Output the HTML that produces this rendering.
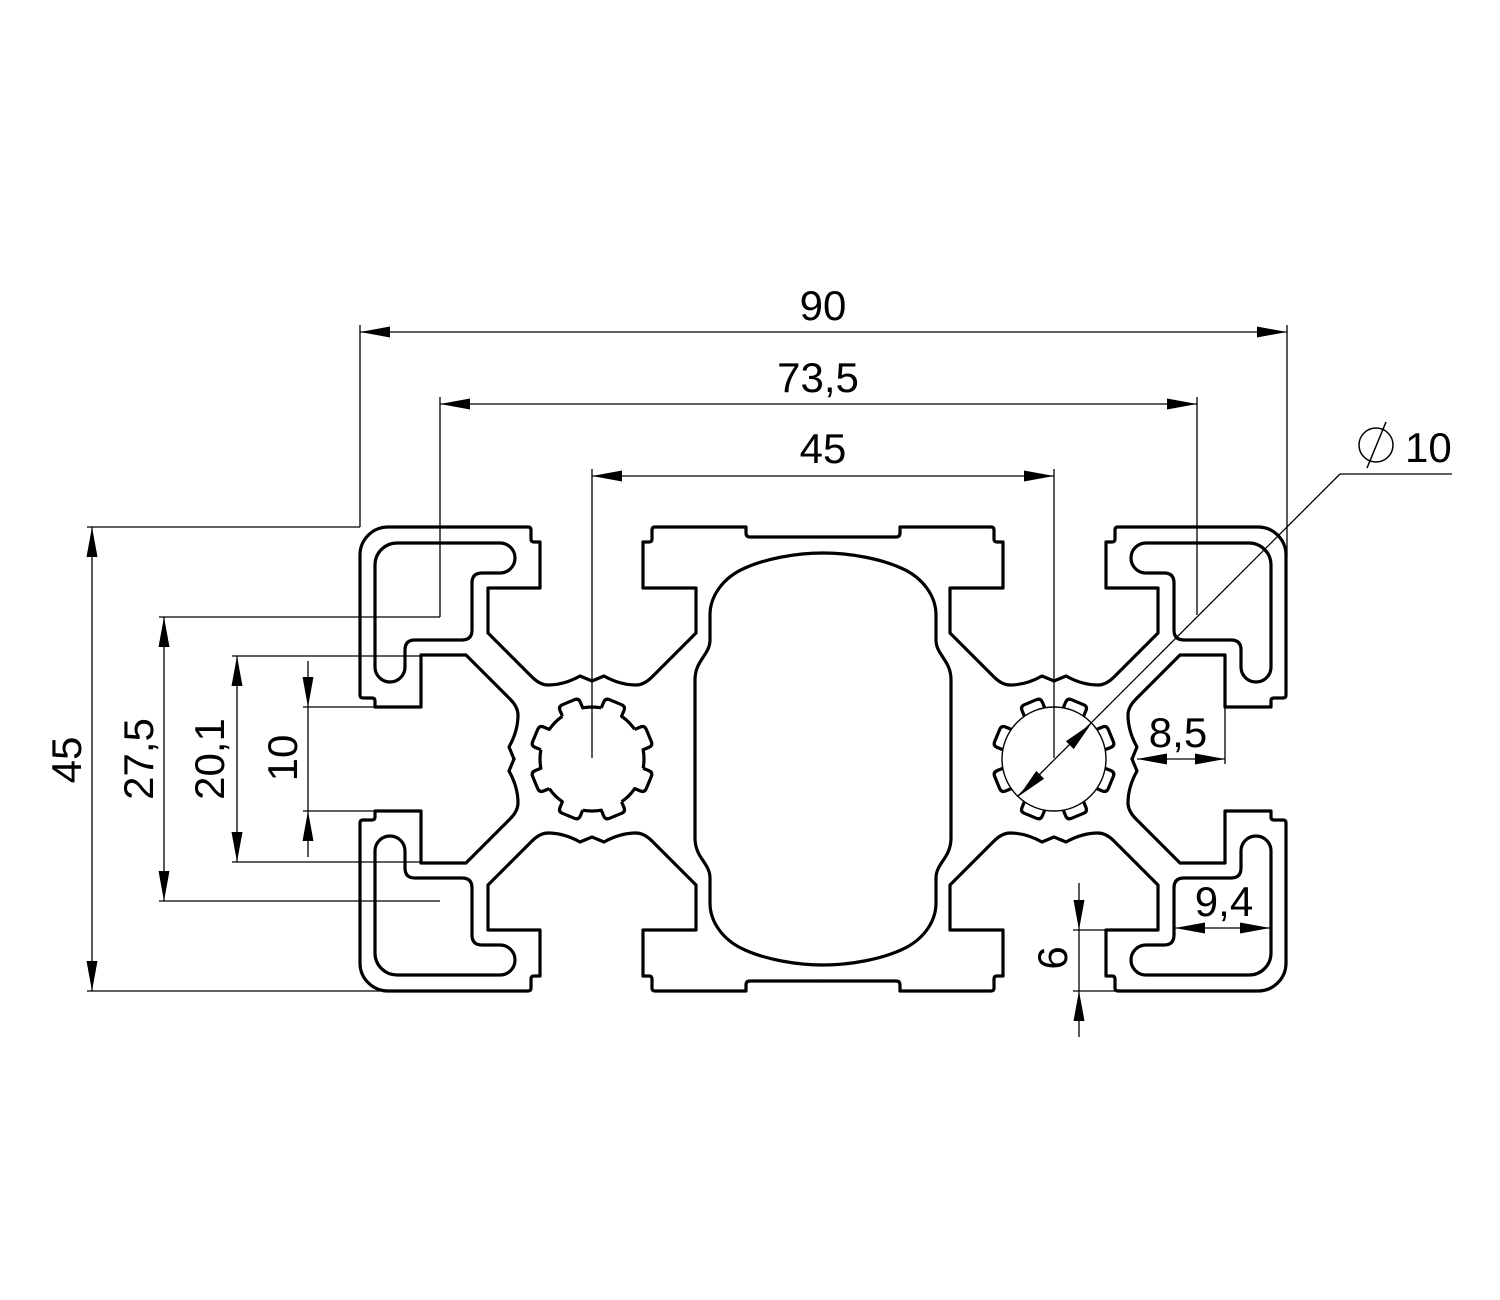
<!DOCTYPE html>
<html>
<head>
<meta charset="utf-8">
<style>
  html,body{margin:0;padding:0;background:#fff;}
  svg{display:block;}
  text{font-family:"Liberation Sans",Arial,sans-serif;font-size:42px;fill:#000;}
</style>
</head>
<body>
<svg width="1500" height="1300" viewBox="0 0 1500 1300" xmlns="http://www.w3.org/2000/svg">
  <rect width="1500" height="1300" fill="#fff"/>
  <defs>
    <g id="q" fill="none" stroke="#000" stroke-width="3.2" stroke-linejoin="round" stroke-linecap="round">
      <!-- outer outline quarter -->
      <path d="M 823 537 L 750 537 Q 746 537 746 533 L 746 527 L 655 527 Q 652 527 652 530 L 652 539 Q 652 542 649 542 L 643 542 L 643 588 L 696 588 L 696 633 L 652 677 Q 644 685 636 685 Q 620 685 604 676 L 592 681 L 580 676 Q 564 685 548 685 Q 540 685 532 677 L 488 633 L 488 588 L 540 588 L 540 542 L 534 542 Q 531 542 531 539 L 531 530 Q 531 527 528 527 L 388 527 A 28 28 0 0 0 360 555 L 360 695 Q 360 698 363 698 L 372 698 Q 375 698 375 701 L 375 707 L 421 707 L 421 655 L 466 655 L 510 699 Q 518 707 518 715 Q 518 731 509 747 L 514 759"/>
      <!-- L cavity -->
      <path d="M 397 543 L 500 543 A 15 15 0 0 1 500 573 L 482 573 Q 472 573 472 583 L 472 630 Q 472 640 462 640 L 415 640 Q 405 640 405 650 L 405 667 A 15 15 0 0 1 375 667 L 375 565 A 22 22 0 0 1 397 543 Z"/>
      <!-- central cavity quarter -->
      <path d="M 823 553 C 795 553 765 559 745 568 C 722 578 710 597 710 615 L 710 640 C 710 655 695 660 695 680 L 695 759"/>
    </g>
    <path id="lobe" fill="none" stroke="#000" stroke-width="3.2" stroke-linejoin="round" d="M -11 -50.8 L -11 -57 Q -11 -61.5 -6.5 -61.5 L 6.5 -61.5 Q 11 -61.5 11 -57 L 11 -50.8 A 52 52 0 0 1 28.14 -43.70"/>
    <path id="lobe2" fill="none" stroke="#000" stroke-width="3.2" stroke-linejoin="round" d="M -11 -50.8 L -11 -57 Q -11 -61.5 -6.5 -61.5 L 6.5 -61.5 Q 11 -61.5 11 -57 L 11 -50.8"/>
  </defs>

  <!-- profile -->
  <use href="#q"/>
  <use href="#q" transform="translate(1646,0) scale(-1,1)"/>
  <use href="#q" transform="translate(0,1518) scale(1,-1)"/>
  <use href="#q" transform="translate(1646,1518) scale(-1,-1)"/>

  <!-- left hole -->
  <g transform="translate(592,759)">
    <use href="#lobe" transform="rotate(22.5)"/>
    <use href="#lobe" transform="rotate(67.5)"/>
    <use href="#lobe" transform="rotate(112.5)"/>
    <use href="#lobe" transform="rotate(157.5)"/>
    <use href="#lobe" transform="rotate(202.5)"/>
    <use href="#lobe" transform="rotate(247.5)"/>
    <use href="#lobe" transform="rotate(292.5)"/>
    <use href="#lobe" transform="rotate(337.5)"/>
  </g>
  <!-- right hole -->
  <g transform="translate(1054,759)">
    <circle cx="0" cy="0" r="52" fill="none" stroke="#000" stroke-width="1.4"/>
    <use href="#lobe2" transform="rotate(22.5)"/>
    <use href="#lobe2" transform="rotate(67.5)"/>
    <use href="#lobe2" transform="rotate(112.5)"/>
    <use href="#lobe2" transform="rotate(157.5)"/>
    <use href="#lobe2" transform="rotate(202.5)"/>
    <use href="#lobe2" transform="rotate(247.5)"/>
    <use href="#lobe2" transform="rotate(292.5)"/>
    <use href="#lobe2" transform="rotate(337.5)"/>
  </g>

  <!-- thin lines -->
  <g stroke="#000" stroke-width="1.3" fill="none">
    <!-- top dims -->
    <line x1="360" y1="332" x2="1287" y2="332"/>
    <line x1="360" y1="325" x2="360" y2="527"/>
    <line x1="1287" y1="325" x2="1287" y2="556"/>
    <line x1="440" y1="404" x2="1197" y2="404"/>
    <line x1="440" y1="397" x2="440" y2="617"/>
    <line x1="1197" y1="397" x2="1197" y2="615"/>
    <line x1="592" y1="476" x2="1054" y2="476"/>
    <line x1="592" y1="469" x2="592" y2="758"/>
    <line x1="1054" y1="469" x2="1054" y2="758"/>
    <!-- left dims -->
    <line x1="92" y1="527" x2="92" y2="991"/>
    <line x1="87" y1="527" x2="360" y2="527"/>
    <line x1="87" y1="991" x2="388" y2="991"/>
    <line x1="164" y1="617" x2="164" y2="901"/>
    <line x1="159" y1="617" x2="440" y2="617"/>
    <line x1="159" y1="901" x2="440" y2="901"/>
    <line x1="237" y1="656" x2="237" y2="862"/>
    <line x1="232" y1="656" x2="421" y2="656"/>
    <line x1="232" y1="862" x2="421" y2="862"/>
    <line x1="308" y1="661" x2="308" y2="857"/>
    <line x1="303" y1="707" x2="375" y2="707"/>
    <line x1="303" y1="811" x2="375" y2="811"/>
    <!-- 8,5 -->
    <line x1="1137" y1="759" x2="1225" y2="759"/>
    <line x1="1225" y1="707" x2="1225" y2="764"/>
    <!-- 9,4 -->
    <line x1="1175" y1="928" x2="1270" y2="928"/>
    <!-- 6 -->
    <line x1="1079" y1="883" x2="1079" y2="1037"/>
    <line x1="1073" y1="930" x2="1106" y2="930"/>
    <line x1="1073" y1="991" x2="1115" y2="991"/>
    <!-- diameter leader -->
    <line x1="1452" y1="474" x2="1340" y2="474"/>
    <line x1="1340" y1="474" x2="1018" y2="796"/>
    <!-- diameter symbol -->
    <circle cx="1376" cy="445" r="17" stroke-width="1.5"/>
    <line x1="1367" y1="468" x2="1386" y2="422" stroke-width="1.5"/>
  </g>

  <!-- arrowheads -->
  <g fill="#000" stroke="none">
    <polygon points="360,332 390,326.5 390,337.5"/>
    <polygon points="1287,332 1257,326.5 1257,337.5"/>
    <polygon points="440,404 470,398.5 470,409.5"/>
    <polygon points="1197,404 1167,398.5 1167,409.5"/>
    <polygon points="592,476 622,470.5 622,481.5"/>
    <polygon points="1054,476 1024,470.5 1024,481.5"/>

    <polygon points="92,527 86.5,557 97.5,557"/>
    <polygon points="92,991 86.5,961 97.5,961"/>
    <polygon points="164,617 158.5,647 169.5,647"/>
    <polygon points="164,901 158.5,871 169.5,871"/>
    <polygon points="237,656 231.5,686 242.5,686"/>
    <polygon points="237,862 231.5,832 242.5,832"/>
    <polygon points="308,707 302.5,677 313.5,677"/>
    <polygon points="308,811 302.5,841 313.5,841"/>

    <polygon points="1137,759 1167,753.5 1167,764.5"/>
    <polygon points="1225,759 1195,753.5 1195,764.5"/>
    <polygon points="1175,928 1205,922.5 1205,933.5"/>
    <polygon points="1270,928 1240,922.5 1240,933.5"/>

    <polygon points="1079,930 1073.5,900 1084.5,900"/>
    <polygon points="1079,991 1073.5,1021 1084.5,1021"/>

    <polygon points="1091,724 1073.7,749.1 1065.9,741.3"/>
    <polygon points="1019,796 1036.3,770.9 1044.1,778.7"/>
  </g>

  <!-- labels -->
  <text x="823" y="320" text-anchor="middle">90</text>
  <text x="818" y="392" text-anchor="middle">73,5</text>
  <text x="823" y="463" text-anchor="middle">45</text>
  <text x="1405" y="462">10</text>
  <text x="1178" y="747" text-anchor="middle">8,5</text>
  <text x="1224" y="916" text-anchor="middle">9,4</text>
  <text transform="translate(66,760) rotate(-90)" x="0" y="15" text-anchor="middle">45</text>
  <text transform="translate(138,759) rotate(-90)" x="0" y="15" text-anchor="middle">27,5</text>
  <text transform="translate(209,759) rotate(-90)" x="0" y="15" text-anchor="middle">20,1</text>
  <text transform="translate(282,758) rotate(-90)" x="0" y="15" text-anchor="middle">10</text>
  <text transform="translate(1052,958) rotate(-90)" x="0" y="15" text-anchor="middle">6</text>
</svg>
</body>
</html>
